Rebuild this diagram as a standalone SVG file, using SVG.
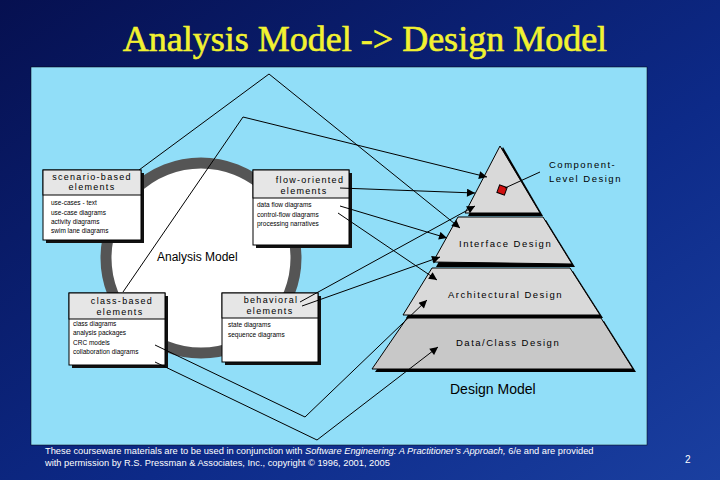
<svg xmlns="http://www.w3.org/2000/svg" width="720" height="480" viewBox="0 0 720 480">
<defs>
<linearGradient id="bg" x1="0" y1="0" x2="1" y2="1"><stop offset="0" stop-color="#061050"/><stop offset="0.6" stop-color="#0d2a88"/><stop offset="1" stop-color="#1a3fa0"/></linearGradient>
<marker id="ah" viewBox="0 0 10 10" refX="10" refY="5" markerWidth="10" markerHeight="8" markerUnits="userSpaceOnUse" orient="auto"><path d="M0,0 L10,5 L0,10 z" fill="#000"/></marker>
<style>
.box{fill:#fff;stroke:#000;stroke-width:1}
.hdr{fill:#e6e6e6;stroke:#000;stroke-width:1}
.sh{fill:#111}
.ht{font-family:"Liberation Sans",Arial,sans-serif;font-size:9px;letter-spacing:1.3px;text-anchor:middle}
.it{font-family:"Liberation Sans",Arial,sans-serif;font-size:6.5px}
.pl{font-family:"Liberation Sans",Arial,sans-serif;font-size:9.5px;letter-spacing:1.5px}
.con line,.con polyline{stroke:#000;stroke-width:1;fill:none}
.ar{marker-end:url(#ah)}
.band{fill:#d9d9d9;stroke:#000;stroke-width:1}
.bsh{fill:#000}
.ft{font-family:"Liberation Sans",Arial,sans-serif;font-size:9.3px;fill:#fff}
</style>
</defs>
<rect width="720" height="480" fill="url(#bg)"/>
<text x="365" y="51" font-family="Liberation Serif,serif" font-size="36" fill="#f2f230" stroke="#f2f230" stroke-width="0.6" text-anchor="middle">Analysis Model -&gt; Design Model</text>
<rect x="31" y="67" width="616" height="378" fill="#91def8" stroke="#000" stroke-width="0.5"/>

<g id="analysis-circle">
<circle cx="201" cy="258" r="95" fill="#fff" stroke="#555" stroke-width="11"/>
<text x="157" y="261" font-family="Liberation Sans,Arial,sans-serif" font-size="12">Analysis Model</text>
</g>

<g id="pyramid">
<polygon points="410,321 604,321 636,372 375,372" class="bsh"/>
<polygon points="407,318 601,318 633,369 372,369" fill="#c8c8c8" stroke="#000"/>
<polygon points="435,271 573,271 603,318 406,318" class="bsh"/>
<polygon points="432,268 570,268 600,315 403,315" class="band"/>
<polygon points="461,220 546,220 575,267 436,267" class="bsh"/>
<polygon points="458,217 543,217 572,264 433,262" class="band"/>
<polygon points="503,147 543,216 468,216" class="bsh"/>
<polygon points="500,146 540,213 465,213" class="band"/>
<rect x="498" y="186" width="8" height="8" fill="#d01010" stroke="#000" transform="rotate(20 502 190)"/>
<line x1="505" y1="188" x2="540" y2="172" stroke="#000"/>
<text x="549" y="168" class="pl">Component-</text>
<text x="549" y="182" class="pl">Level Design</text>
<text x="459" y="247" class="pl">Interface Design</text>
<text x="448" y="298" class="pl">Architectural Design</text>
<text x="456" y="346" class="pl">Data/Class Design</text>
<text x="450" y="394" font-family="Liberation Sans,Arial,sans-serif" font-size="14">Design Model</text>
</g>

<g id="scenario">
<rect x="46" y="173" width="98" height="70" class="sh"/>
<rect x="43" y="170" width="98" height="70" class="box"/>
<rect x="43" y="170" width="98" height="25" class="hdr"/>
<text x="92" y="180" class="ht">scenario-based</text>
<text x="92" y="190" class="ht">elements</text>
<text x="51" y="205" class="it">use-cases - text</text>
<text x="51" y="215" class="it">use-case diagrams</text>
<text x="51" y="224" class="it">activity diagrams</text>
<text x="51" y="233" class="it">swim lane diagrams</text>
</g>

<g id="flow">
<rect x="256" y="173" width="96" height="75" class="sh"/>
<rect x="253" y="170" width="96" height="75" class="box"/>
<rect x="253" y="170" width="96" height="28" class="hdr"/>
<text x="310" y="183" class="ht">flow-oriented</text>
<text x="304" y="194" class="ht">elements</text>
<text x="257" y="207" class="it">data flow diagrams</text>
<text x="257" y="217" class="it">control-flow diagrams</text>
<text x="257" y="226" class="it">processing narratives</text>
</g>

<g id="class">
<rect x="72" y="296" width="96" height="72" class="sh"/>
<rect x="69" y="293" width="96" height="72" class="box"/>
<rect x="69" y="293" width="96" height="26" class="hdr"/>
<text x="122" y="304" class="ht">class-based</text>
<text x="120" y="315" class="ht">elements</text>
<text x="73" y="326" class="it">class diagrams</text>
<text x="73" y="335" class="it">analysis packages</text>
<text x="73" y="345" class="it">CRC models</text>
<text x="73" y="354" class="it">collaboration diagrams</text>
</g>

<g id="behavioral">
<rect x="225" y="296" width="96" height="69" class="sh"/>
<rect x="222" y="293" width="96" height="69" class="box"/>
<rect x="222" y="293" width="96" height="25" class="hdr"/>
<text x="271" y="303" class="ht">behavioral</text>
<text x="270" y="314" class="ht">elements</text>
<text x="228" y="327" class="it">state diagrams</text>
<text x="228" y="337" class="it">sequence diagrams</text>
</g>

<g id="connectors" class="con">
<polyline class="ar" points="139,170 269,74 460,228"/>
<polyline class="ar" points="123,292 243,117 487,177"/>
<line class="ar" x1="340" y1="188" x2="475" y2="193"/>
<line class="ar" x1="340" y1="206" x2="447" y2="238"/>
<line class="ar" x1="338" y1="213" x2="437" y2="280"/>
<line class="ar" x1="300" y1="302" x2="475" y2="206"/>
<line class="ar" x1="302" y1="306" x2="440" y2="257"/>
<polyline class="ar" points="155,345 305,417 427,300"/>
<polyline class="ar" points="155,362 317,440 438,347"/>
</g>

<text x="45" y="454" class="ft">These courseware materials are to be used in conjunction with <tspan font-style="italic">Software Engineering: A Practitioner’s Approach,</tspan> 6/e and are provided</text>
<text x="45" y="466" class="ft">with permission by R.S. Pressman &amp; Associates, Inc., copyright © 1996, 2001, 2005</text>
<text x="685" y="463" font-family="Liberation Sans,Arial,sans-serif" font-size="10" fill="#fff">2</text>
</svg>
